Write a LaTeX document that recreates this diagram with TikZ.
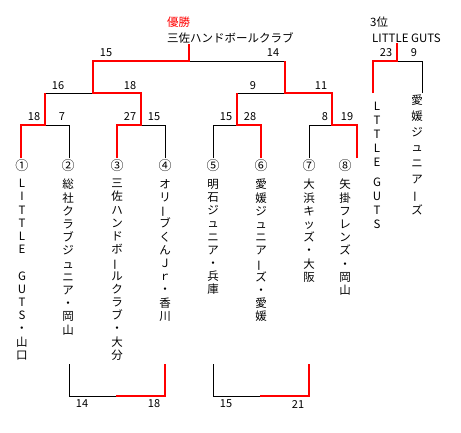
\documentclass[tikz,border=0pt]{standalone}
\usepackage{fontspec}
\setmainfont{Noto Sans CJK JP}
\usepackage{tikz}
\usetikzlibrary{positioning,calc}

\newcommand{\tate}{\rotatebox[origin=c]{90}{ー}}

\begin{document}
\begin{tikzpicture}[x=1pt, y=-1pt,
  win/.style={draw, red, line width=2pt},
  lose/.style={draw, black, line width=0.9pt},
  score/.style={font=\fontsize{11}{13}\selectfont, inner sep=0pt},
  seed/.style={font=\fontsize{13}{13}\selectfont, inner sep=0pt},
  team/.style={font=\fontsize{11.5}{13.2}\selectfont, align=center,
    anchor=north, inner sep=0pt},
  title/.style={font=\fontsize{11.5}{13}\selectfont, anchor=west, inner sep=0pt}]
  \useasboundingbox (0,0) rectangle (461,432);
  % Headings
  \node[title, red] (yusho) at (167,22) {優勝};
  \node[title] (champ) at (167,38) {三佐ハンドボールクラブ};
  \node[title] (third) at (370,22) {3位};
  \node[title] (thirdteam) at (372,38) {LITTLE GUTS};
  % Bracket points
  \foreach \x [count=\i] in {21,69,117,165,213,261,309,357}
    \coordinate (t\i) at (\x,158);
  \coordinate (q1) at (45,125);
  \coordinate (q2) at (141,125);
  \coordinate (q3) at (237,125);
  \coordinate (q4) at (332,125);
  \coordinate (s1) at (93,93);
  \coordinate (s2) at (285,93);
  \coordinate (f)  at (189,61);
  \coordinate (tp) at (397,61);
  \coordinate (tl) at (373,93);
  \coordinate (tr) at (422,93);
  % Losing sides
  \draw[lose] (t2) |- (q1);
  \draw[lose] (t4) |- (q2);
  \draw[lose] (t5) |- (q3);
  \draw[lose] (t7) |- (q4);
  \draw[lose] (q1 |- s1) -- (s1);
  \draw[lose] (q3 |- s2) -- (s2);
  \draw[lose] (s2 |- f) -- (f);
  \draw[lose] (tr) |- (tp);
  % Winning paths
  \draw[win] (t1) |- (q1) -- (q1 |- s1);
  \draw[win] (t6) |- (q3) -- (q3 |- s2);
  \draw[win] (t8) |- (q4) |- (s2) -- (s2 |- f);
  \draw[win] (t3) |- (q2) |- (s1) |- (f) -- (f |- champ.south);
  \draw[win] (tl) |- (tp) -- (tp |- thirdteam.south);
  % Scores
  \node[score] (sf1) at (106,53) {15};
  \node[score] (sf2) at (273,53) {14};
  \node[score] (ss1) at (58,86)  {16};
  \node[score] (ss2) at (130,86) {18};
  \node[score] (ss3) at (253,86) {9};
  \node[score] (ss4) at (321,86) {11};
  \node[score] (sq1) at (34,117)  {18};
  \node[score] (sq2) at (62,117)  {7};
  \node[score] (sq3) at (130,117) {27};
  \node[score] (sq4) at (154,117) {15};
  \node[score] (sq5) at (226,117) {15};
  \node[score] (sq6) at (250,117) {28};
  \node[score] (sq7) at (325,117) {8};
  \node[score] (sq8) at (347,117) {19};
  \node[score] (st1) at (386,53) {23};
  \node[score] (st2) at (414,53) {9};
  % Seeds
  \node[seed] (n1) at (22,166)  {①};
  \node[seed] (n2) at (68,166)  {②};
  \node[seed] (n3) at (117,166) {③};
  \node[seed] (n4) at (165,166) {④};
  \node[seed] (n5) at (213,166) {⑤};
  \node[seed] (n6) at (261,166) {⑥};
  \node[seed] (n7) at (309,166) {⑦};
  \node[seed] (n8) at (345,166) {⑧};
  % Team names
  \node[team] (c1) at (22,179)  {L\\I\\T\\T\\L\\E\\\mbox{}\\G\\U\\T\\S\\・\\山\\口};
  \node[team] (c2) at (68,179)  {総\\社\\ク\\ラ\\ブ\\ジ\\ュ\\ニ\\ア\\・\\岡\\山};
  \node[team] (c3) at (117,179) {三\\佐\\ハ\\ン\\ド\\ボ\\\tate\\ル\\ク\\ラ\\ブ\\・\\大\\分};
  \node[team] (c4) at (165,179) {オ\\リ\\\tate\\ブ\\く\\ん\\Ｊ\\ｒ\\・\\香\\川};
  \node[team] (c5) at (213,179) {明\\石\\ジ\\ュ\\ニ\\ア\\・\\兵\\庫};
  \node[team] (c6) at (261,179) {愛\\媛\\ジ\\ュ\\ニ\\ア\\\tate\\ズ\\・\\愛\\媛};
  \node[team] (c7) at (309,179) {大\\浜\\キ\\ッ\\ズ\\・\\大\\阪};
  \node[team] (c8) at (345,179) {矢\\掛\\フ\\レ\\ン\\ズ\\・\\岡\\山};
  \node[team, font=\fontsize{11.5}{14}\selectfont] (c9) at (377,102)
    {L\\T\\T\\L\\E\\[6pt]G\\U\\T\\S};
  \node[team, font=\fontsize{11.5}{15.7}\selectfont] (c10) at (417,95)
    {愛\\媛\\ジ\\ュ\\ニ\\ア\\\tate\\ズ};
  % Lower matches
  \coordinate (l2) at (69,364);
  \coordinate (l4) at (165,364);
  \coordinate (lm) at (116,396);
  \coordinate (l5) at (213,364);
  \coordinate (l7) at (309,364);
  \coordinate (lm2) at (260,396);
  \draw[lose] (l2) |- (lm);
  \draw[win]  (l4) |- (lm);
  \draw[lose] (l5) |- (lm2);
  \draw[win]  (l7) |- (lm2);
  \node[score] (sl1) at (82,404)  {14};
  \node[score] (sl2) at (154,404) {18};
  \node[score] (sl3) at (226,404) {15};
  \node[score] (sl4) at (298,404) {21};
\end{tikzpicture}
\end{document}
